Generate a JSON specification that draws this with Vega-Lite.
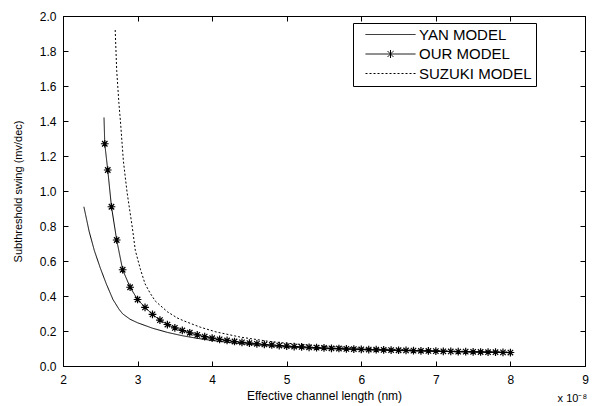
{
  "$schema": "https://vega.github.io/schema/vega-lite/v6.json",
  "width": 522,
  "height": 350,
  "autosize": {"type": "none"},
  "padding": {"left": 63, "top": 16, "right": 7, "bottom": 40},
  "background": "white",
  "config": {
    "view": {"stroke": "black", "strokeWidth": 1},
    "font": "Liberation Sans",
    "axis": {
      "domainColor": "black", "tickColor": "black", "labelColor": "black", "titleColor": "black",
      "labelFont": "Liberation Sans", "labelFontSize": 12, "titleFont": "Liberation Sans", "titleFontSize": 12, "titleFontWeight": "normal",
      "grid": false
    }
  },
  "data": {"values": [
    {"model": "YAN MODEL", "x": 2.28, "y": 0.91},
    {"model": "YAN MODEL", "x": 2.35, "y": 0.77},
    {"model": "YAN MODEL", "x": 2.42, "y": 0.66},
    {"model": "YAN MODEL", "x": 2.50, "y": 0.56},
    {"model": "YAN MODEL", "x": 2.58, "y": 0.47},
    {"model": "YAN MODEL", "x": 2.67, "y": 0.38},
    {"model": "YAN MODEL", "x": 2.75, "y": 0.325},
    {"model": "YAN MODEL", "x": 2.80, "y": 0.298},
    {"model": "YAN MODEL", "x": 2.90, "y": 0.267},
    {"model": "YAN MODEL", "x": 3.00, "y": 0.247},
    {"model": "YAN MODEL", "x": 3.20, "y": 0.216},
    {"model": "YAN MODEL", "x": 3.40, "y": 0.192},
    {"model": "YAN MODEL", "x": 3.60, "y": 0.173},
    {"model": "YAN MODEL", "x": 3.80, "y": 0.158},
    {"model": "YAN MODEL", "x": 4.00, "y": 0.146},
    {"model": "YAN MODEL", "x": 4.30, "y": 0.131},
    {"model": "YAN MODEL", "x": 4.60, "y": 0.120},
    {"model": "YAN MODEL", "x": 5.00, "y": 0.108},
    {"model": "YAN MODEL", "x": 5.50, "y": 0.099},
    {"model": "YAN MODEL", "x": 6.00, "y": 0.093},
    {"model": "YAN MODEL", "x": 6.50, "y": 0.088},
    {"model": "YAN MODEL", "x": 7.00, "y": 0.084},
    {"model": "YAN MODEL", "x": 7.50, "y": 0.080},
    {"model": "YAN MODEL", "x": 8.00, "y": 0.076},
    {"model": "OUR MODEL", "x": 2.55, "y": 1.42},
    {"model": "OUR MODEL", "x": 2.56, "y": 1.27},
    {"model": "OUR MODEL", "x": 2.60, "y": 1.12},
    {"model": "OUR MODEL", "x": 2.65, "y": 0.91},
    {"model": "OUR MODEL", "x": 2.72, "y": 0.72},
    {"model": "OUR MODEL", "x": 2.80, "y": 0.55},
    {"model": "OUR MODEL", "x": 2.90, "y": 0.45},
    {"model": "OUR MODEL", "x": 3.00, "y": 0.38},
    {"model": "OUR MODEL", "x": 3.10, "y": 0.335},
    {"model": "OUR MODEL", "x": 3.20, "y": 0.295},
    {"model": "OUR MODEL", "x": 3.30, "y": 0.262},
    {"model": "OUR MODEL", "x": 3.40, "y": 0.237},
    {"model": "OUR MODEL", "x": 3.50, "y": 0.218},
    {"model": "OUR MODEL", "x": 3.60, "y": 0.203},
    {"model": "OUR MODEL", "x": 3.70, "y": 0.190},
    {"model": "OUR MODEL", "x": 3.80, "y": 0.178},
    {"model": "OUR MODEL", "x": 3.90, "y": 0.168},
    {"model": "OUR MODEL", "x": 4.00, "y": 0.159},
    {"model": "OUR MODEL", "x": 4.10, "y": 0.152},
    {"model": "OUR MODEL", "x": 4.20, "y": 0.146},
    {"model": "OUR MODEL", "x": 4.30, "y": 0.140},
    {"model": "OUR MODEL", "x": 4.40, "y": 0.135},
    {"model": "OUR MODEL", "x": 4.50, "y": 0.131},
    {"model": "OUR MODEL", "x": 4.60, "y": 0.127},
    {"model": "OUR MODEL", "x": 4.70, "y": 0.123},
    {"model": "OUR MODEL", "x": 4.80, "y": 0.120},
    {"model": "OUR MODEL", "x": 4.90, "y": 0.117},
    {"model": "OUR MODEL", "x": 5.00, "y": 0.114},
    {"model": "OUR MODEL", "x": 5.10, "y": 0.111},
    {"model": "OUR MODEL", "x": 5.20, "y": 0.109},
    {"model": "OUR MODEL", "x": 5.30, "y": 0.107},
    {"model": "OUR MODEL", "x": 5.40, "y": 0.105},
    {"model": "OUR MODEL", "x": 5.50, "y": 0.103},
    {"model": "OUR MODEL", "x": 5.60, "y": 0.101},
    {"model": "OUR MODEL", "x": 5.70, "y": 0.100},
    {"model": "OUR MODEL", "x": 5.80, "y": 0.098},
    {"model": "OUR MODEL", "x": 5.90, "y": 0.097},
    {"model": "OUR MODEL", "x": 6.00, "y": 0.095},
    {"model": "OUR MODEL", "x": 6.10, "y": 0.094},
    {"model": "OUR MODEL", "x": 6.20, "y": 0.093},
    {"model": "OUR MODEL", "x": 6.30, "y": 0.092},
    {"model": "OUR MODEL", "x": 6.40, "y": 0.091},
    {"model": "OUR MODEL", "x": 6.50, "y": 0.090},
    {"model": "OUR MODEL", "x": 6.60, "y": 0.089},
    {"model": "OUR MODEL", "x": 6.70, "y": 0.088},
    {"model": "OUR MODEL", "x": 6.80, "y": 0.087},
    {"model": "OUR MODEL", "x": 6.90, "y": 0.086},
    {"model": "OUR MODEL", "x": 7.00, "y": 0.085},
    {"model": "OUR MODEL", "x": 7.10, "y": 0.084},
    {"model": "OUR MODEL", "x": 7.20, "y": 0.083},
    {"model": "OUR MODEL", "x": 7.30, "y": 0.082},
    {"model": "OUR MODEL", "x": 7.40, "y": 0.082},
    {"model": "OUR MODEL", "x": 7.50, "y": 0.081},
    {"model": "OUR MODEL", "x": 7.60, "y": 0.080},
    {"model": "OUR MODEL", "x": 7.70, "y": 0.079},
    {"model": "OUR MODEL", "x": 7.80, "y": 0.079},
    {"model": "OUR MODEL", "x": 7.90, "y": 0.078},
    {"model": "OUR MODEL", "x": 8.00, "y": 0.077},
    {"model": "SUZUKI MODEL", "x": 2.70, "y": 1.92},
    {"model": "SUZUKI MODEL", "x": 2.72, "y": 1.69},
    {"model": "SUZUKI MODEL", "x": 2.75, "y": 1.50},
    {"model": "SUZUKI MODEL", "x": 2.77, "y": 1.40},
    {"model": "SUZUKI MODEL", "x": 2.81, "y": 1.17},
    {"model": "SUZUKI MODEL", "x": 2.86, "y": 0.99},
    {"model": "SUZUKI MODEL", "x": 2.93, "y": 0.79},
    {"model": "SUZUKI MODEL", "x": 2.97, "y": 0.66},
    {"model": "SUZUKI MODEL", "x": 3.04, "y": 0.55},
    {"model": "SUZUKI MODEL", "x": 3.10, "y": 0.47},
    {"model": "SUZUKI MODEL", "x": 3.17, "y": 0.415},
    {"model": "SUZUKI MODEL", "x": 3.24, "y": 0.37},
    {"model": "SUZUKI MODEL", "x": 3.40, "y": 0.31},
    {"model": "SUZUKI MODEL", "x": 3.53, "y": 0.275},
    {"model": "SUZUKI MODEL", "x": 3.62, "y": 0.258},
    {"model": "SUZUKI MODEL", "x": 3.84, "y": 0.222},
    {"model": "SUZUKI MODEL", "x": 4.05, "y": 0.195},
    {"model": "SUZUKI MODEL", "x": 4.38, "y": 0.165},
    {"model": "SUZUKI MODEL", "x": 4.74, "y": 0.142},
    {"model": "SUZUKI MODEL", "x": 5.00, "y": 0.130},
    {"model": "SUZUKI MODEL", "x": 5.50, "y": 0.113},
    {"model": "SUZUKI MODEL", "x": 6.00, "y": 0.102},
    {"model": "SUZUKI MODEL", "x": 6.50, "y": 0.094},
    {"model": "SUZUKI MODEL", "x": 7.00, "y": 0.088},
    {"model": "SUZUKI MODEL", "x": 7.50, "y": 0.083},
    {"model": "SUZUKI MODEL", "x": 8.00, "y": 0.079}
  ]},
  "layer": [
    {
      "mark": {"type": "line", "color": "black", "strokeWidth": 1},
      "encoding": {
        "x": {"field": "x", "type": "quantitative", "scale": {"domain": [2, 9], "nice": false, "zero": false},
              "axis": {"orient": "bottom", "values": [2,3,4,5,6,7,8,9], "tickSize": -5, "labelPadding": 13, "title": "Effective channel length (nm)", "titleY": 24, "titleFontSize": 12, "labelFlush": false}},
        "y": {"field": "y", "type": "quantitative", "scale": {"domain": [0, 2], "nice": false},
              "axis": {"orient": "left", "values": [0,0.2,0.4,0.6,0.8,1,1.2,1.4,1.6,1.8,2], "tickSize": -5, "labelPadding": 12, "title": "Subthreshold swing (mv/dec)", "titleX": -40, "titleFontSize": 11, "labelFlush": false}},
        "strokeDash": {"field": "model", "type": "nominal",
          "scale": {"domain": ["YAN MODEL", "OUR MODEL", "SUZUKI MODEL"], "range": [[1, 0], [1, 0], [2, 2]]},
          "legend": {
            "title": null, "orient": "none", "legendX": 290, "legendY": 7,
            "symbolType": "M-5,0H5", "symbolSize": 100, "symbolStrokeWidth": 1, "symbolStrokeColor": "black", "symbolOffset": 26,
            "labelFont": "Liberation Sans", "labelFontSize": 15, "labelColor": "black", "labelOffset": 21,
            "strokeColor": "black", "fillColor": "white", "padding": 4, "rowPadding": 3.5,
            "encode": {"symbols": {"update": {"shape": {"signal": "datum.value === 'OUR MODEL' ? 'M-5,0H5M0,-0.8V0.8M-0.6,-0.6L0.6,0.6M-0.6,0.6L0.6,-0.6' : 'M-5,0H5'"}}}}
          }}
      }
    },
    {
      "transform": [{"filter": "datum.model === 'OUR MODEL' && datum.x > 2.555"}],
      "mark": {"type": "point", "shape": "M-1,0H1M0,-1V1M-0.7,-0.7L0.7,0.7M-0.7,0.7L0.7,-0.7", "size": 60, "filled": false, "stroke": "black", "strokeWidth": 1.2, "opacity": 1},
      "encoding": {
        "x": {"field": "x", "type": "quantitative", "axis": {"orient": "top", "values": [2,3,4,5,6,7,8,9], "tickSize": -5, "labels": false, "title": null}},
        "y": {"field": "y", "type": "quantitative", "axis": {"orient": "right", "values": [0,0.2,0.4,0.6,0.8,1,1.2,1.4,1.6,1.8,2], "tickSize": -5, "labels": false, "title": null}}
      }
    },
    {
      "data": {"values": [{"x": 8.83, "y": -0.19, "label": "x 10⁻⁸"}]},
      "mark": {"type": "text", "align": "center", "baseline": "middle", "fontSize": 11, "font": "Liberation Sans", "color": "black", "clip": false},
      "encoding": {
        "x": {"field": "x", "type": "quantitative", "axis": null},
        "y": {"field": "y", "type": "quantitative", "axis": null},
        "text": {"field": "label"}
      }
    }
  ],
  "resolve": {"axis": {"x": "independent", "y": "independent"}}
}
